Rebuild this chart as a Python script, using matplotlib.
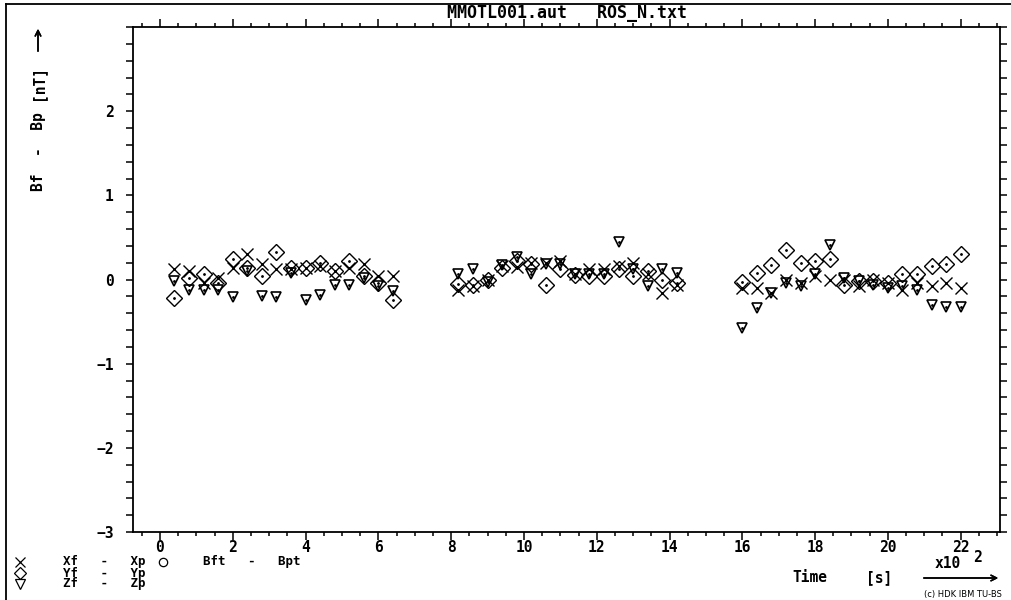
import matplotlib
matplotlib.use('Agg')
import matplotlib.pyplot as plt
from matplotlib.lines import Line2D
from matplotlib.ticker import MultipleLocator

# time in units of 100 s
t1 = [0.4, 0.8, 1.2, 1.6, 2.0, 2.4, 2.8, 3.2, 3.6, 4.0, 4.4, 4.8, 5.2, 5.6, 6.0, 6.4]
t2 = [8.2, 8.6, 9.0, 9.4, 9.8, 10.2, 10.6, 11.0, 11.4, 11.8, 12.2, 12.6, 13.0, 13.4, 13.8, 14.2]
t3 = [16.0, 16.4, 16.8, 17.2, 17.6, 18.0, 18.4, 18.8, 19.2, 19.6, 20.0, 20.4, 20.8, 21.2, 21.6, 22.0]
time = t1 + t2 + t3

# Xf - Xp
dx = [0.12, 0.10, -0.04, 0.02, 0.14, 0.30, 0.18, 0.12, 0.12, 0.14, 0.16, 0.10, 0.14, 0.18, 0.04, 0.04,
      -0.12, -0.08, -0.01, 0.16, 0.15, 0.20, 0.20, 0.22, 0.06, 0.12, 0.12, 0.16, 0.20, 0.06, -0.16, -0.06,
      -0.10, -0.10, -0.16, 0.00, -0.04, 0.04, 0.00, 0.00, -0.08, 0.00, -0.04, -0.12, -0.04, -0.08, -0.04, -0.10]
# Yf - Yp
dy = [-0.22, 0.02, 0.06, -0.04, 0.24, 0.14, 0.04, 0.33, 0.14, 0.14, 0.20, 0.10, 0.22, 0.04, -0.04, -0.24,
      -0.05, -0.07, 0.00, 0.14, 0.22, 0.18, -0.06, 0.12, 0.05, 0.04, 0.04, 0.12, 0.04, 0.10, 0.00, -0.04,
      -0.03, 0.08, 0.17, 0.35, 0.20, 0.22, 0.24, -0.07, -0.02, -0.02, -0.04, 0.06, 0.06, 0.16, 0.18, 0.30]
# Zf - Zp
dz = [-0.02, -0.12, -0.12, -0.12, -0.21, 0.10, -0.20, -0.21, 0.08, -0.24, -0.18, -0.06, -0.06, 0.02, -0.08, -0.14,
      0.06, 0.12, -0.03, 0.17, 0.27, 0.06, 0.19, 0.18, 0.06, 0.06, 0.06, 0.45, 0.12, -0.08, 0.12, 0.08,
      -0.58, -0.34, -0.16, -0.04, -0.08, 0.06, 0.41, 0.02, -0.02, -0.06, -0.10, -0.08, -0.12, -0.30, -0.33, -0.33]

mono = 'DejaVu Sans Mono'
W, H = 1011, 600


def fx(px):
    return px / W


def fy(py):
    return 1 - py / H


fig = plt.figure(figsize=(10.11, 6.0), dpi=100)
ax = fig.add_axes([fx(133), fy(532), 867 / W, 505 / H])

ax.plot(time, dx, linestyle='none', marker='x', ms=8.5, mew=1.0, color='black')
ax.plot(time, dy, linestyle='none', marker='D', ms=8.5, mew=1.0, mfc='none', mec='black')
ax.plot(time, dz, linestyle='none', marker='v', ms=7.5, mew=1.2, mfc='none', mec='black')
# centre dots of the diamond and triangle symbols
ax.plot(time, dy, linestyle='none', marker='.', ms=2, color='black')
ax.plot(time, dz, linestyle='none', marker='.', ms=2, color='black')

ax.set_xlim(-0.74, 23.08)
ax.set_ylim(-3, 3)
ax.set_xticks(range(0, 23, 2))
ax.xaxis.set_minor_locator(MultipleLocator(0.5))
ax.set_yticks([-3, -2, -1, 0, 1, 2])
ax.yaxis.set_minor_locator(MultipleLocator(0.2))

for s in ax.spines.values():
    s.set_linewidth(1.3)
ax.tick_params(axis='both', which='both', direction='out', width=1.1, colors='black',
               top=True, right=True)
ax.tick_params(axis='y', which='both', length=5)
ax.tick_params(axis='x', which='major', length=6)
ax.tick_params(axis='x', which='minor', length=3)
ax.tick_params(axis='x', which='major', labelsize=10.5, pad=0)
ax.tick_params(axis='y', which='major', labelsize=10.5, pad=9)
ax.set_yticklabels(['\u22123', '\u22122', '\u22121', '0', '1', '2'])
for lab in ax.get_xticklabels() + ax.get_yticklabels():
    lab.set_fontfamily(mono)
    lab.set_fontweight('bold')

# outer frame
fig.add_artist(Line2D([fx(6), fx(6)], [0, fy(4)], transform=fig.transFigure, color='black', lw=1.3))
fig.add_artist(Line2D([fx(6), 1], [fy(4), fy(4)], transform=fig.transFigure, color='black', lw=1.3))

# title
fig.text(fx(567), fy(13), 'MMOTL001.aut   ROS_N.txt', ha='center', va='center',
         family=mono, fontweight='bold', fontsize=12)

# y label with arrow
fig.text(fx(38), fy(152), 'Bf  -  Bp', rotation=90, ha='center', va='center',
         family=mono, fontweight='bold', fontsize=10.5)
fig.text(fx(38), fy(83), '[nT]', rotation=90, ha='center', va='center',
         family=mono, fontweight='bold', fontsize=10.5)
fig.add_artist(plt.annotate('', xy=(fx(38), fy(26)), xytext=(fx(38), fy(54)),
                            xycoords='figure fraction', textcoords='figure fraction',
                            arrowprops=dict(arrowstyle='->', lw=1.1, color='black')))

# x label with arrow
fig.text(fx(935), fy(564), 'x10', ha='left', va='center', family=mono, fontweight='bold', fontsize=10.5)
fig.text(fx(973), fy(557), '2', ha='left', va='center', family=mono, fontweight='bold', fontsize=10.5)
fig.text(fx(792), fy(578), 'Time', ha='left', va='center', family=mono, fontweight='bold', fontsize=10.5)
fig.text(fx(866), fy(578), '[s]', ha='left', va='center', family=mono, fontweight='bold', fontsize=10.5)
fig.add_artist(plt.annotate('', xy=(fx(1001), fy(578)), xytext=(fx(921), fy(578)),
                            xycoords='figure fraction', textcoords='figure fraction',
                            arrowprops=dict(arrowstyle='->', lw=1.1, color='black')))
fig.text(fx(1002), fy(595), '(c) HDK IBM TU-BS', ha='right', va='center',
         family='DejaVu Sans', fontsize=6)

# legend
leg_rows = [('x', 'Xf   -   Xp', 562), ('D', 'Yf   -   Yp', 573), ('v', 'Zf   -   Zp', 584)]
for mk, txt, yp in leg_rows:
    fig.add_artist(Line2D([fx(20)], [fy(yp)], transform=fig.transFigure, linestyle='none',
                          marker=mk, ms=6.5 if mk != 'D' else 6, mfc='none', mec='black', mew=0.9))
    fig.text(fx(63), fy(yp), txt, ha='left', va='center', family=mono, fontweight='bold', fontsize=9)
fig.add_artist(Line2D([fx(163)], [fy(562)], transform=fig.transFigure, linestyle='none',
                      marker='o', ms=6, mfc='none', mec='black', mew=0.9))
fig.text(fx(203), fy(562), 'Bft   -   Bpt', ha='left', va='center', family=mono,
         fontweight='bold', fontsize=9)

fig.savefig('out.png', dpi=100)
